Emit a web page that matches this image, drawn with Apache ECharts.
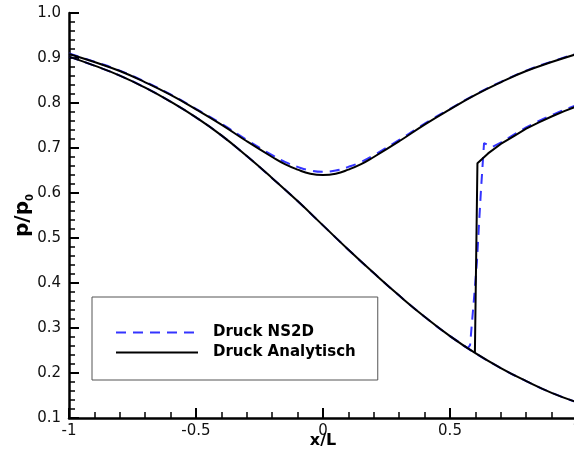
<!DOCTYPE html>
<html><head><meta charset="utf-8">
<script src="https://cdn.jsdelivr.net/npm/echarts@6/dist/echarts.min.js"></script>
<style>html,body{margin:0;padding:0;background:#fff}#c{width:574px;height:457px}</style>
</head><body><div id="c"></div>
<script>
// x positions
const upperX = [-1,-0.9,-0.8,-0.7,-0.6,-0.5,-0.4,-0.3,-0.2,-0.15,-0.1,-0.05,0,0.05,0.1,0.15,0.2,0.3,0.4,0.5,0.6,0.7,0.8,0.9,1];
const superX = [-1,-0.9,-0.8,-0.7,-0.6,-0.5,-0.4,-0.3,-0.2,-0.1,0,0.1,0.2,0.3,0.4,0.5,0.6,0.7,0.8,0.9,1];
const shockAnaX = [0.598,0.608,0.65,0.7,0.75,0.8,0.85,0.9,0.95,1];
const shockNsX = [0.5,0.55,0.57,0.579,0.594,0.606,0.614,0.622,0.634,0.665,0.7,0.75,0.8,0.85,0.9,0.95,1];

// p/p0 values – analytic
const anaUpper = [0.909,0.891,0.871,0.846,0.818,0.786,0.752,0.715,0.680,0.664,0.652,0.643,0.640,0.643,0.652,0.664,0.680,0.715,0.752,0.786,0.818,0.846,0.871,0.891,0.909];
const anaSuper = [0.903,0.883,0.861,0.834,0.803,0.768,0.728,0.682,0.633,0.582,0.528,0.474,0.422,0.372,0.325,0.282,0.244,0.211,0.182,0.156,0.135];
const anaShock = [0.245,0.666,0.688,0.709,0.726,0.743,0.757,0.770,0.782,0.793];

// p/p0 values – NS2D
const nsUpper = [0.910,0.892,0.872,0.847,0.819,0.787,0.754,0.718,0.684,0.669,0.658,0.650,0.647,0.650,0.658,0.669,0.684,0.718,0.754,0.787,0.819,0.847,0.872,0.892,0.910];
const nsSuper = [0.903,0.883,0.861,0.834,0.803,0.768,0.728,0.682,0.633,0.582,0.528,0.474,0.422,0.372,0.325,0.282,0.244,0.211,0.182,0.156,0.135];
const nsShock = [0.282,0.263,0.255,0.262,0.362,0.447,0.529,0.607,0.711,0.702,0.712,0.729,0.746,0.760,0.773,0.785,0.796];

const yTicks = ['0.1','0.2','0.3','0.4','0.5','0.6','0.7','0.8','0.9','1.0'];
const xTicks = ['-1','-0.5','0','0.5','1'];

const NS = 'Druck NS2D', ANA = 'Druck Analytisch';
const FONT = 'DejaVu Sans';
const pairs = (xs, ys) => xs.map((x, i) => [x, ys[i]]);

const blue = {color: '#3434ff', width: 2, type: [10, 7]};
const black = {color: '#000000', width: 2};
function ser(name, data, ls, smooth) {
  return {name, type: 'line', data, symbol: 'none', showSymbol: false, smooth: smooth,
    lineStyle: ls, itemStyle: {color: ls.color}, animation: false};
}

const chart = echarts.init(document.getElementById('c'));
chart.setOption({
  animation: false,
  grid: {left: 69, top: 13, width: 508, height: 405, containLabel: false, outerBoundsMode: 'none'},
  legend: {
    data: [NS, ANA], orient: 'vertical', left: 92, top: 297,
    padding: [28, 22, 20, 23], itemWidth: 82, itemHeight: 14, itemGap: 5,
    borderColor: '#555', borderWidth: 1, backgroundColor: '#fff',
    itemStyle: {opacity: 0},
    textStyle: {fontFamily: FONT, fontWeight: 'bold', fontSize: 15, color: '#000', padding: [0, 0, 0, 10]}
  },
  xAxis: {
    type: 'value', min: -1, max: 1, interval: 0.5,
    name: 'x/L', nameLocation: 'middle', nameGap: 15, nameMoveOverlap: false,
    nameTextStyle: {fontFamily: FONT, fontWeight: 'bold', fontSize: 16, color: '#000'},
    axisLine: {onZero: false, lineStyle: {color: '#000', width: 2.5}},
    axisTick: {inside: true, length: 10, lineStyle: {color: '#000', width: 2}},
    minorTick: {show: true, splitNumber: 5, length: 6, lineStyle: {color: '#000', width: 1.5}},
    splitLine: {show: false},
    axisLabel: {margin: 6, fontFamily: FONT, fontSize: 15, color: '#111',
      formatter: v => xTicks[Math.round((v + 1) / 0.5)]}
  },
  yAxis: {
    type: 'value', min: 0.1, max: 1.0, interval: 0.1,
    name: '{a|p/p}{b|0}', nameLocation: 'middle', nameGap: 34, nameMoveOverlap: false,
    nameTextStyle: {rich: {
      a: {fontFamily: FONT, fontWeight: 'bold', fontSize: 20, color: '#000', lineHeight: 24},
      b: {fontFamily: FONT, fontWeight: 'bold', fontSize: 10, color: '#000', lineHeight: 14, verticalAlign: 'bottom'}
    }},
    axisLine: {show: true, onZero: false, lineStyle: {color: '#000', width: 2.5}},
    axisTick: {show: true, inside: true, length: 10, lineStyle: {color: '#000', width: 2}},
    minorTick: {show: true, splitNumber: 5, length: 6, lineStyle: {color: '#000', width: 1.5}},
    splitLine: {show: false},
    axisLabel: {margin: 8, fontFamily: FONT, fontSize: 15, color: '#111',
      formatter: v => yTicks[Math.round(v * 10) - 1]}
  },
  series: [
    ser(NS, pairs(upperX, nsUpper), blue, true),
    ser(NS, pairs(superX, nsSuper), blue, true),
    ser(NS, pairs(shockNsX, nsShock), blue, false),
    ser(ANA, pairs(upperX, anaUpper), black, true),
    ser(ANA, pairs(superX, anaSuper), black, true),
    ser(ANA, pairs(shockAnaX, anaShock), black, false)
  ]
});
</script>
</body></html>
